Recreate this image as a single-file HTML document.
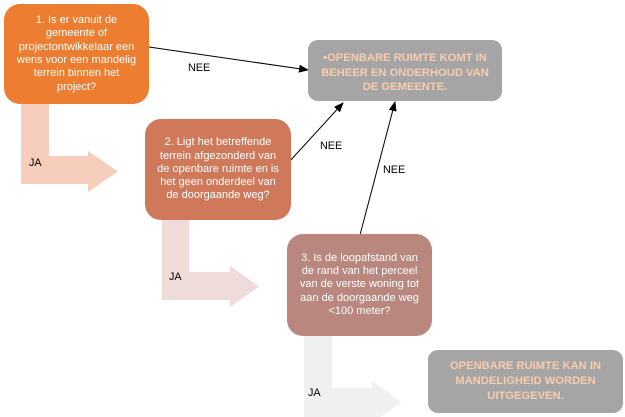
<!DOCTYPE html>
<html><head><meta charset="utf-8"><style>
html,body{margin:0;padding:0;background:#fff;}
body{width:625px;height:417px;position:relative;overflow:hidden;font-family:"Liberation Sans",sans-serif;}
.box{position:absolute;display:flex;align-items:center;justify-content:center;text-align:center;color:#fff;font-size:11px;line-height:13.3px;white-space:nowrap;box-sizing:border-box;}
.g{background:#a5a5a5;color:#f8cbad;font-weight:bold;font-size:11.2px;border-radius:10px;}
.lbl{position:absolute;font-size:10.8px;color:#000;line-height:12px;}
svg{position:absolute;left:0;top:0;}
</style></head><body>
<svg width="625" height="417" viewBox="0 0 625 417">
<defs>
<marker id="ah" markerWidth="10" markerHeight="8" refX="9" refY="4" orient="auto" markerUnits="userSpaceOnUse">
<path d="M0,0 L10,4 L0,8 z" fill="#000"/>
</marker>
</defs>
<path d="M21,104 L49,104 L49,156 L88,156 L88,151 L118,171.5 L88,192 L88,184 L21,184 z" fill="#f7cdbb"/>
<path d="M162,220 L189,220 L189,272 L230,272 L230,266 L259,286.5 L230,307 L230,300 L162,300 z" fill="#efdcda"/>
<path d="M304,336 L332,336 L332,388 L372,388 L372,381 L401,402 L372,423 L372,417 L304,417 z" fill="#f0f0f0"/>
<line x1="149" y1="47" x2="308" y2="70" stroke="#000" stroke-width="1" marker-end="url(#ah)"/>
<line x1="289" y1="162" x2="343" y2="103" stroke="#000" stroke-width="1" marker-end="url(#ah)"/>
<line x1="360" y1="235" x2="395" y2="102" stroke="#000" stroke-width="1" marker-end="url(#ah)"/>
</svg>
<div class="box" style="left:4px;top:4px;width:145px;height:100px;background:#ed7d31;border-radius:16px;">1. Is er vanuit de<br>gemeente of<br>projectontwikkelaar een<br>wens voor een mandelig<br>terrein binnen het<br>project?</div>
<div class="box" style="left:145px;top:119px;width:146px;height:101px;background:#d0785a;border-radius:16px;">2. Ligt het betreffende<br>terrein afgezonderd van<br>de openbare ruimte en is<br>het geen onderdeel van<br>de doorgaande weg?</div>
<div class="box" style="left:287px;top:234px;width:145px;height:102px;background:#b9877e;border-radius:16px;">3. Is de loopafstand van<br>de rand van het perceel<br>van de verste woning tot<br>aan de doorgaande weg<br>&lt;100 meter?</div>
<div class="box g" style="left:308px;top:40px;width:194px;height:61px;line-height:14.5px;padding-top:5px;">•OPENBARE RUIMTE KOMT IN<br>BEHEER EN ONDERHOUD VAN<br>DE GEMEENTE.</div>
<div class="box g" style="left:428px;top:350px;width:195px;height:63px;line-height:15px;">OPENBARE RUIMTE KAN IN<br>MANDELIGHEID WORDEN<br>UITGEGEVEN.</div>
<div class="lbl" style="left:188px;top:62px;">NEE</div>
<div class="lbl" style="left:320px;top:140px;">NEE</div>
<div class="lbl" style="left:383px;top:164px;">NEE</div>
<div class="lbl" style="left:29px;top:157px;">JA</div>
<div class="lbl" style="left:169px;top:271px;">JA</div>
<div class="lbl" style="left:308px;top:387px;">JA</div>
</body></html>
